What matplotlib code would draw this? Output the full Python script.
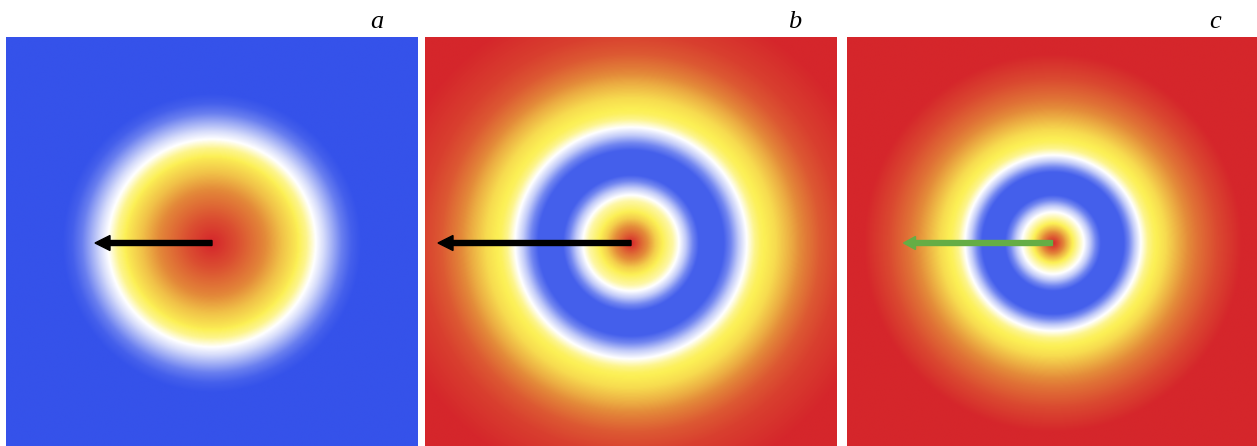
import numpy as np
import matplotlib
matplotlib.use("Agg")
import matplotlib.pyplot as plt
from matplotlib.colors import LinearSegmentedColormap

# Radial profiles: radius (px from centre) -> colour level
# level: 0 = blue, 0.5 = white, ~0.65 = yellow, 1 = red
r_a = [0, 25, 50, 70, 85, 95, 104, 112, 120, 130, 140, 150, 300]
v_a = [1.0, 0.92, 0.82, 0.72, 0.66, 0.6, 0.5, 0.4, 0.28, 0.13, 0.04, 0.0, 0.0]

r_b = [0, 12, 25, 33, 42, 48, 55, 62, 68, 93, 100, 108, 116, 124, 130, 145, 160, 175, 190, 210, 250, 300]
v_b = [1.0, 0.85, 0.7, 0.64, 0.58, 0.5, 0.35, 0.15, 0.04, 0.04, 0.15, 0.35, 0.5, 0.6, 0.64, 0.68, 0.75, 0.83, 0.9, 0.95, 1.0, 1.0]

r_c = [0, 6, 13, 19, 25, 31, 37, 43, 48, 71, 76, 82, 88, 95, 101, 113, 128, 145, 165, 190, 300]
v_c = [1.0, 0.9, 0.76, 0.66, 0.58, 0.5, 0.35, 0.15, 0.04, 0.04, 0.15, 0.35, 0.5, 0.6, 0.64, 0.68, 0.76, 0.85, 0.93, 1.0, 1.0]

panel_labels = ["a", "b", "c"]
arrow_lengths = [117, 193, 149]
arrow_colors = ["black", "black", "#65AD45"]

cmap = LinearSegmentedColormap.from_list(
    "bwyr",
    [(0.0, "#3552EA"), (0.5, "#FFFFFF"), (0.65, "#FCF055"),
     (0.8, "#E48C3A"), (1.0, "#D5262B")])

W, H = 1257, 446
fig = plt.figure(figsize=(W / 100, H / 100), dpi=100)

centers_x = [212, 631, 1052.5]
half = 206
top = 37
profiles = [(r_a, v_a), (r_b, v_b), (r_c, v_c)]

n = 600
xs = np.linspace(-half, half, n)
X, Y = np.meshgrid(xs, xs)
R = np.hypot(X, Y)

for i, (cx, (rr, vv)) in enumerate(zip(centers_x, profiles)):
    left = (cx - half) / W
    bottom = (H - (top + 2 * half)) / H
    ax = fig.add_axes([left, bottom, 2 * half / W, 2 * half / H])
    img = np.interp(R, rr, vv)
    ax.imshow(img, cmap=cmap, vmin=0, vmax=1, extent=[-half, half, -half, half],
              origin="lower", interpolation="bilinear")
    ax.set_xlim(-half, half)
    ax.set_ylim(-half, half)
    ax.set_axis_off()
    hw = 15 if i < 2 else 13
    hl = 15 if i < 2 else 12
    ax.arrow(0, 0, -arrow_lengths[i], 0, width=5, head_width=hw, head_length=hl,
             length_includes_head=True, color=arrow_colors[i], zorder=3)

label_x = [377, 795, 1215]
for lx, lab in zip(label_x, panel_labels):
    fig.text(lx / W, 1 - 22 / H, lab, ha="center", va="center",
             fontsize=19, style="italic", family="Liberation Serif")

fig.savefig("out.png", dpi=100)
